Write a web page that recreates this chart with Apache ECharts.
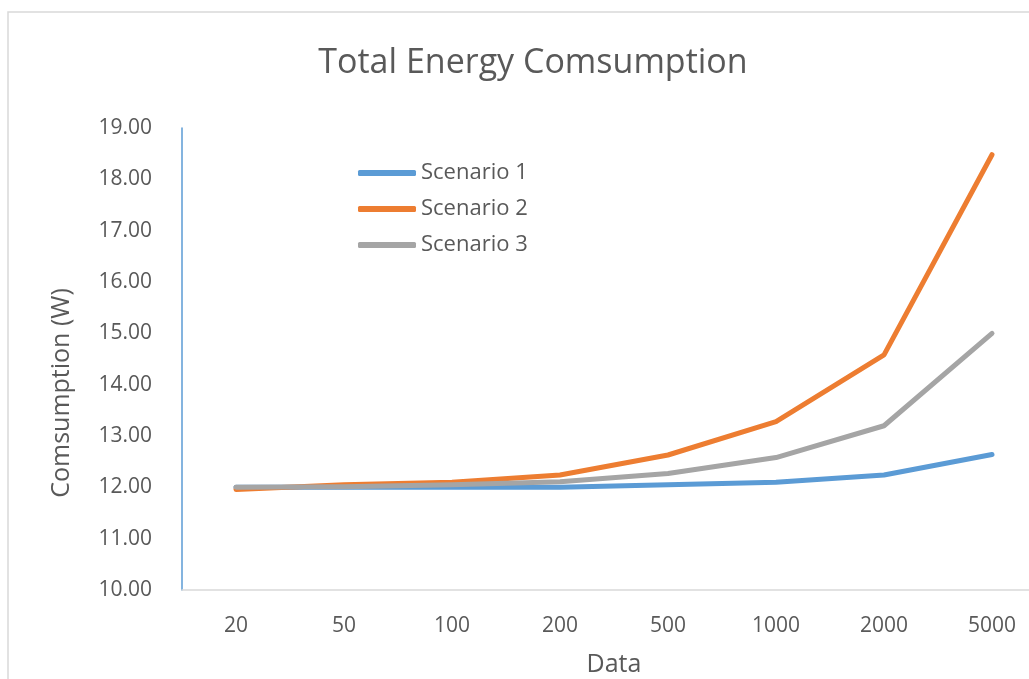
<!DOCTYPE html>
<html>
<head>
<meta charset="utf-8">
<script src="https://cdn.jsdelivr.net/npm/echarts@6/dist/echarts.min.js"></script>
<style>
  html, body { margin: 0; padding: 0; background: #ffffff; }
  #chart { width: 1029px; height: 679px; }
</style>
</head>
<body>
<div id="chart"></div>
<script>
// Data sizes along the x axis
const categories = ['20', '50', '100', '200', '500', '1000', '2000', '5000'];

// Total energy consumption (W) per scenario
const scenario1 = [12.00, 12.00, 12.00, 12.00, 12.05, 12.10, 12.24, 12.64];
const scenario2 = [11.96, 12.05, 12.10, 12.24, 12.63, 13.28, 14.58, 18.48];
const scenario3 = [12.00, 12.01, 12.05, 12.11, 12.27, 12.58, 13.20, 15.00];

const seriesNames = ['Scenario 1', 'Scenario 2', 'Scenario 3'];
const seriesColors = ['#5B9BD5', '#ED7D31', '#A5A5A5'];

const FONT = "'Open Sans', 'Noto Sans', sans-serif";
const TEXT = '#595959';

const chart = echarts.init(document.getElementById('chart'), null, { renderer: 'canvas' });

const values = [scenario1, scenario2, scenario3];

chart.setOption({
  backgroundColor: '#ffffff',
  animation: false,
  graphic: [{
    type: 'rect',
    shape: { x: 8, y: 12, width: 1100, height: 700 },
    style: { fill: 'none', stroke: '#D9D9D9', lineWidth: 1.5 },
    silent: true,
    z: -1
  }],
  title: {
    text: 'Total Energy Comsumption',
    left: 528,
    textAlign: 'center',
    top: 41,
    textStyle: { fontFamily: FONT, fontSize: 34, fontWeight: 'normal', color: TEXT }
  },
  legend: {
    orient: 'vertical',
    left: 353,
    top: 157,
    itemWidth: 58,
    itemHeight: 6,
    itemGap: 14,
    icon: 'roundRect',
    data: seriesNames,
    textStyle: { fontFamily: FONT, fontSize: 22, color: TEXT, lineHeight: 22 }
  },
  grid: {
    left: 182,
    top: 128,
    width: 864,
    height: 462,
    containLabel: false,
    outerBoundsMode: 'none'
  },
  xAxis: {
    type: 'category',
    data: categories,
    boundaryGap: true,
    name: 'Data',
    nameLocation: 'middle',
    nameGap: 62,
    nameTextStyle: { fontFamily: FONT, fontSize: 25, color: TEXT },
    axisLine: { show: true, lineStyle: { color: '#D9D9D9', width: 1.5 } },
    axisTick: { show: false },
    axisLabel: { margin: 26, fontFamily: FONT, fontSize: 21, color: TEXT },
    splitLine: { show: false }
  },
  yAxis: {
    type: 'value',
    min: 10,
    max: 19,
    interval: 1,
    name: 'Comsumption (W)',
    nameLocation: 'middle',
    nameGap: 108,
    nameTextStyle: { fontFamily: FONT, fontSize: 25, color: TEXT, padding: [0, 68, 0, 0] },
    axisLine: { show: true, lineStyle: { color: '#5B9BD5', width: 1.5 } },
    axisTick: { show: false },
    axisLabel: {
      margin: 30,
      fontFamily: FONT,
      fontSize: 21,
      color: TEXT,
      formatter: v => v.toFixed(2)
    },
    splitLine: { show: false }
  },
  series: seriesNames.map((name, i) => ({
    name: name,
    type: 'line',
    data: values[i],
    symbol: 'none',
    color: seriesColors[i],
    lineStyle: { width: 5, color: seriesColors[i], cap: 'round', join: 'round' },
    itemStyle: { color: seriesColors[i] }
  }))
});
</script>
</body>
</html>
